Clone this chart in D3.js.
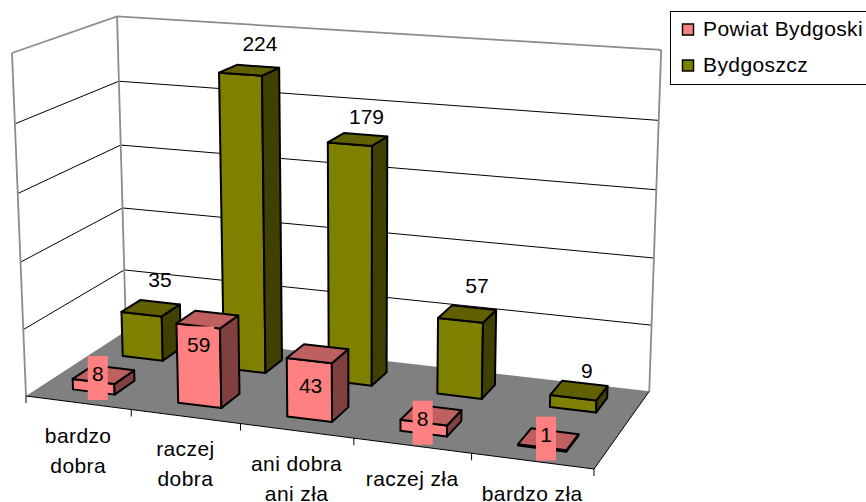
<!DOCTYPE html>
<html>
<head>
<meta charset="utf-8">
<script src="https://cdn.jsdelivr.net/npm/d3@7"></script>
<style>
  html, body { margin: 0; padding: 0; background: #fff; overflow: hidden; }
  text { font-family: "Liberation Sans", Arial, sans-serif; font-size: 21px; fill: #000; }
  .word { letter-spacing: 0.4px; }
</style>
</head>
<body>
<div id="chart"></div>
<script>
let categories = [["bardzo", "dobra"], ["raczej", "dobra"], ["ani dobra", "ani zła"], ["raczej zła"], ["bardzo zła"]];
let categoryKeys = categories.map(function(d){ return d.join(" "); });
let seriesNames = ["Bydgoszcz", "Powiat Bydgoski"];
let valuesPowiat = [8, 59, 43, 8, 1];
let valuesBydgoszcz = [35, 224, 179, 57, 9];
let valueMax = 250;

// data labels were hand placed in the original, so each one gets its own nudge
let powiatLabelLift = [18, 61, 34, 15, 14];
let powiatLabelShift = [3, -2, 0, -2, 3];
let bydgoszczLabelGap = [15, 15, 11, 15, 5];
let bydgoszczLabelShift = [0, 2, 1, 3, 2];

let width = 866, height = 502;

let svg = d3.select("#chart").append("svg")
  .attr("width", width)
  .attr("height", height);

// perspective box: anchors in pixels, then the three weights of the camera
let origin = [26, 396], frontRight = [594, 469], backLeft = [126, 331], frontTop = [12, 53];
let wx = -0.09, wy = -0.04, wz = 0.095;
let ax = [frontRight[0]*(1+wx)-origin[0], frontRight[1]*(1+wx)-origin[1]];
let ay = [frontTop[0]*(1+wy)-origin[0], frontTop[1]*(1+wy)-origin[1]];
let az = [backLeft[0]*(1+wz)-origin[0], backLeft[1]*(1+wz)-origin[1]];

function project(x, y, z){
  let w = 1 + wx*x + wy*y + wz*z;
  return [
    (origin[0] + x*ax[0] + y*ay[0] + z*az[0]) / w,
    (origin[1] + x*ax[1] + y*ay[1] + z*az[1]) / w
  ];
}

let xBand = d3.scaleBand().domain(categoryKeys).range([0, 1]).paddingInner(0.6).paddingOuter(0.3);
let zBand = d3.scaleBand().domain(["Powiat Bydgoski", "Bydgoszcz"]).range([0, 1]).paddingInner(0.6).paddingOuter(0.3);
let yScale = d3.scaleLinear().domain([0, valueMax]).range([0, 1]);

let line = d3.line();
function poly(points){ return line(points) + "Z"; }

// walls
let walls = svg.append("g");
yScale.ticks(5).forEach(function(t){
  let y = yScale(t);
  if(t == 0) return;
  let col = t == valueMax ? "#8c8c8c" : "#000";
  let sw = t == valueMax ? 1.8 : 1;
  walls.append("path")
    .attr("d", line([project(0, y, 0), project(0, y, 1), project(1, y, 1)]))
    .attr("fill", "none").attr("stroke", col).attr("stroke-width", sw);
});
[[0, 0], [0, 1], [1, 1]].forEach(function(d){
  walls.append("path")
    .attr("d", line([project(d[0], 0, d[1]), project(d[0], 1, d[1])]))
    .attr("fill", "none").attr("stroke", "#8c8c8c").attr("stroke-width", 1.8);
});

// floor
walls.append("path")
  .attr("d", poly([project(0,0,0), project(1,0,0), project(1,0,1), project(0,0,1)]))
  .attr("fill", "#808080");
walls.append("path")
  .attr("d", line([project(0,0,0), project(1,0,0), project(1,0,1)]))
  .attr("fill", "none").attr("stroke", "#000").attr("stroke-width", 1);

// category ticks and labels
let step = xBand.step();
d3.range(categories.length + 1).forEach(function(i){
  let p = project(i*step, 0, 0);
  walls.append("line")
    .attr("x1", p[0]).attr("y1", p[1])
    .attr("x2", p[0]).attr("y2", p[1] + 7)
    .attr("stroke", "#000").attr("stroke-width", 1);
});
categories.forEach(function(lines, i){
  let p = project((i + 0.5)*step, 0, 0);
  lines.forEach(function(s, j){
    svg.append("text")
      .attr("class", "word")
      .attr("x", p[0])
      .attr("y", p[1] + 40 + j*30)
      .attr("text-anchor", "middle")
      .text(s);
  });
});

// bars, back row first
function drawBar(g, cat, serie, value, colors){
  let x0 = xBand(cat), x1 = x0 + xBand.bandwidth();
  let z0 = zBand(serie), z1 = z0 + zBand.bandwidth();
  let h = yScale(value);
  let faces = [
    { c: colors.front, p: [[x0,0,z0],[x1,0,z0],[x1,h,z0],[x0,h,z0]] },
    { c: colors.side,  p: [[x1,0,z0],[x1,0,z1],[x1,h,z1],[x1,h,z0]] },
    { c: colors.top,   p: [[x0,h,z0],[x1,h,z0],[x1,h,z1],[x0,h,z1]] }
  ];
  g.selectAll(null).data(faces).enter().append("path")
    .attr("d", function(d){ return poly(d.p.map(function(q){ return project(q[0], q[1], q[2]); })); })
    .attr("fill", function(d){ return d.c; })
    .attr("stroke", "#000")
    .attr("stroke-width", 2)
    .attr("stroke-linejoin", "round");
}

let olive = { front: "#808000", top: "#606000", side: "#404000" };
let pink = { front: "#ff8080", top: "#bf6060", side: "#804040" };

let bars = svg.append("g");
valuesBydgoszcz.forEach(function(v, i){
  drawBar(bars, categoryKeys[i], "Bydgoszcz", v, olive);
});
valuesPowiat.forEach(function(v, i){
  drawBar(bars, categoryKeys[i], "Powiat Bydgoski", v, pink);
});

// labels
let labels = svg.append("g").attr("text-anchor", "middle");
valuesBydgoszcz.forEach(function(v, i){
  let cat = categoryKeys[i];
  let p = project(xBand(cat) + xBand.bandwidth()/2, yScale(v), zBand("Bydgoszcz") + zBand.bandwidth());
  labels.append("text")
    .attr("x", p[0] + bydgoszczLabelShift[i])
    .attr("y", p[1] - bydgoszczLabelGap[i])
    .text(v);
});
valuesPowiat.forEach(function(v, i){
  let cat = categoryKeys[i];
  let p = project(xBand(cat) + xBand.bandwidth()/2, 0, zBand("Powiat Bydgoski"));
  let cx = p[0] + 1 + powiatLabelShift[i];
  let cy = p[1] - powiatLabelLift[i];
  let bw = String(v).length > 1 ? 31 : 20;
  labels.append("rect")
    .attr("x", cx - bw/2).attr("y", cy - 18)
    .attr("width", bw).attr("height", 44)
    .attr("fill", "#ff8080");
  labels.append("text")
    .attr("x", cx)
    .attr("y", cy + 7.5)
    .text(v);
});

// legend
let legend = svg.append("g");
legend.append("rect")
  .attr("x", 670.5).attr("y", 11.5)
  .attr("width", 210).attr("height", 73)
  .attr("fill", "#fff").attr("stroke", "#000").attr("stroke-width", 1);
let legendItems = [
  { name: seriesNames[1], color: pink.front, y: 24 },
  { name: seriesNames[0], color: olive.front, y: 60 }
];
legendItems.forEach(function(d){
  legend.append("rect")
    .attr("x", 682.5).attr("y", d.y)
    .attr("width", 11).attr("height", 11)
    .attr("fill", d.color).attr("stroke", "#000").attr("stroke-width", 1.5);
  legend.append("text")
    .attr("class", "word")
    .attr("x", 703).attr("y", d.y + 12)
    .text(d.name);
});
</script>
</body>
</html>
